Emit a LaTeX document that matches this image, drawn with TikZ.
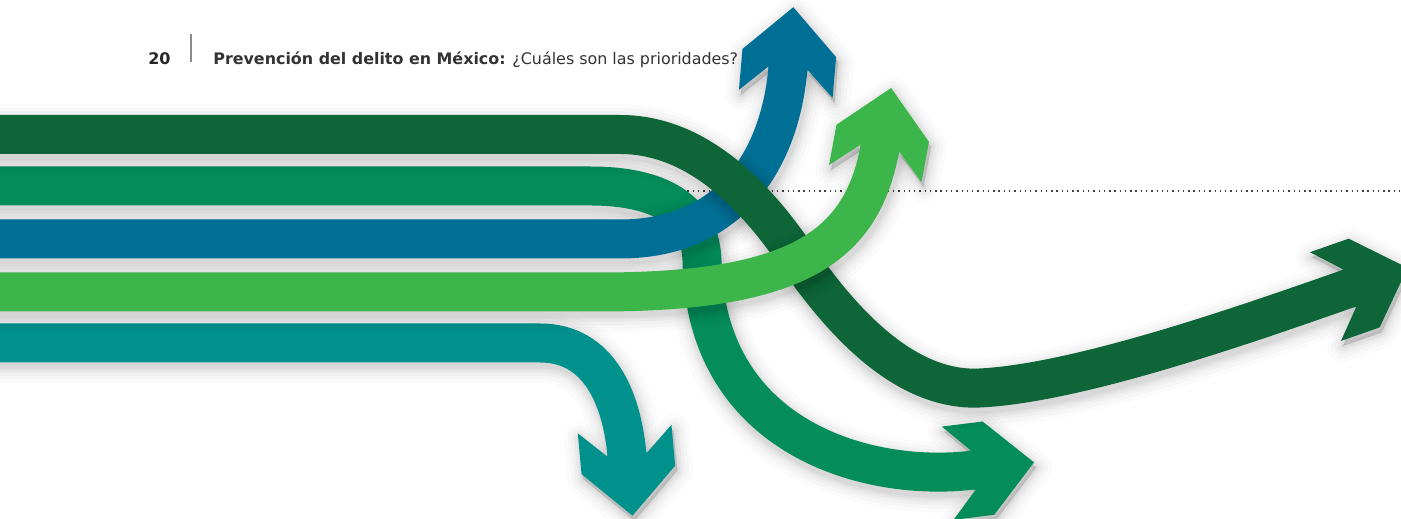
\documentclass[tikz,border=0pt]{standalone}
\usepackage{fontspec}
\setmainfont{DejaVu Sans}
\usepackage{xcolor}
\usetikzlibrary{decorations.markings}

\definecolor{bandDark}{RGB}{14,101,55}
\definecolor{bandMid}{RGB}{4,141,90}
\definecolor{bandBlue}{RGB}{0,111,149}
\definecolor{bandLight}{RGB}{60,182,74}
\definecolor{bandTeal}{RGB}{0,145,141}

% one band: soft shadow first, then the band with its head
\newcommand{\arrowband}[2]{%
	\foreach \w/\o in {32/0.015, 24/0.02, 17/0.025, 11/0.03, 6/0.035, 2/0.035}
		\draw[bandshadow={\w}{\o}, shift={(2,5)}] #2;
	\draw[band=#1] #2;
}

\begin{document}
\begin{tikzpicture}[x = 0.02cm, y = -0.02cm,
			band/.style = {draw=#1, line width=0.78cm,
				postaction={decorate, decoration={markings, mark=at position 1 with
					{\fill[#1] (-3,-19.5) -- (-3,19.5) -- (0,19.5) -- (-26,47) -- (15,47)
						-- (61,0) -- (15,-47) -- (-26,-47) -- (0,-19.5) -- cycle;}}}},
			bandshadow/.style 2 args = {draw=black, draw opacity=#2, line width={(39+#1)*0.02cm},
				postaction={decorate, decoration={markings, mark=at position 1 with
					{\filldraw[black, opacity=#2, line width={#1*0.02cm}, line join=round]
						(0,-19.5) -- (0,19.5) -- (-26,47) -- (15,47)
						-- (61,0) -- (15,-47) -- (-26,-47) -- cycle;}}}},
			dotline/.style = {black!75, line width=0.8pt, dash pattern=on 0.8pt off 2.2pt}]
			\useasboundingbox (0,0) rectangle (1401,519);
			\clip (0,0) rectangle (1401,519);
			
			\draw[dotline] (640,191) -- (1401,191);
			
			\arrowband{bandTeal}{(-30,343) -- (540,343) .. controls (600,343) and (622,400) .. (627,455)}
			\arrowband{bandMid}{(-30,186) -- (590,186) .. controls (660,186) and (700,210) .. (702,260)
				.. controls (705,440) and (870,483) .. (973.5,470)}
			\arrowband{bandBlue}{(-30,239) -- (620,239) .. controls (730,239) and (780,160) .. (788,68)}
			\arrowband{bandDark}{(-30,134.5) -- (620,134.5) .. controls (695,134.5) and (752,192) .. (795,254)
				.. controls (835,312) and (900,392) .. (980,388)
				.. controls (1080,383) and (1250,323) .. (1350,288)}
			\arrowband{bandLight}{(-30,292) -- (600,292) .. controls (800,292) and (862,245) .. (880,148)}
			%
			\node[anchor=base west, inner sep=0, font=\fontsize{9.1}{12}\selectfont\bfseries, black!85]
				(pagenum) at (148,65) {20};
			\draw[black!45, line width=0.8pt] (191,34) -- (191,62);
			\node[anchor=base west, inner sep=0, font=\fontsize{9.05}{12}\selectfont, black!80]
				(title) at (213,65) {\textbf{Prevención del delito en México:} ¿Cuáles son las prioridades?};
		\end{tikzpicture}
\end{document}
